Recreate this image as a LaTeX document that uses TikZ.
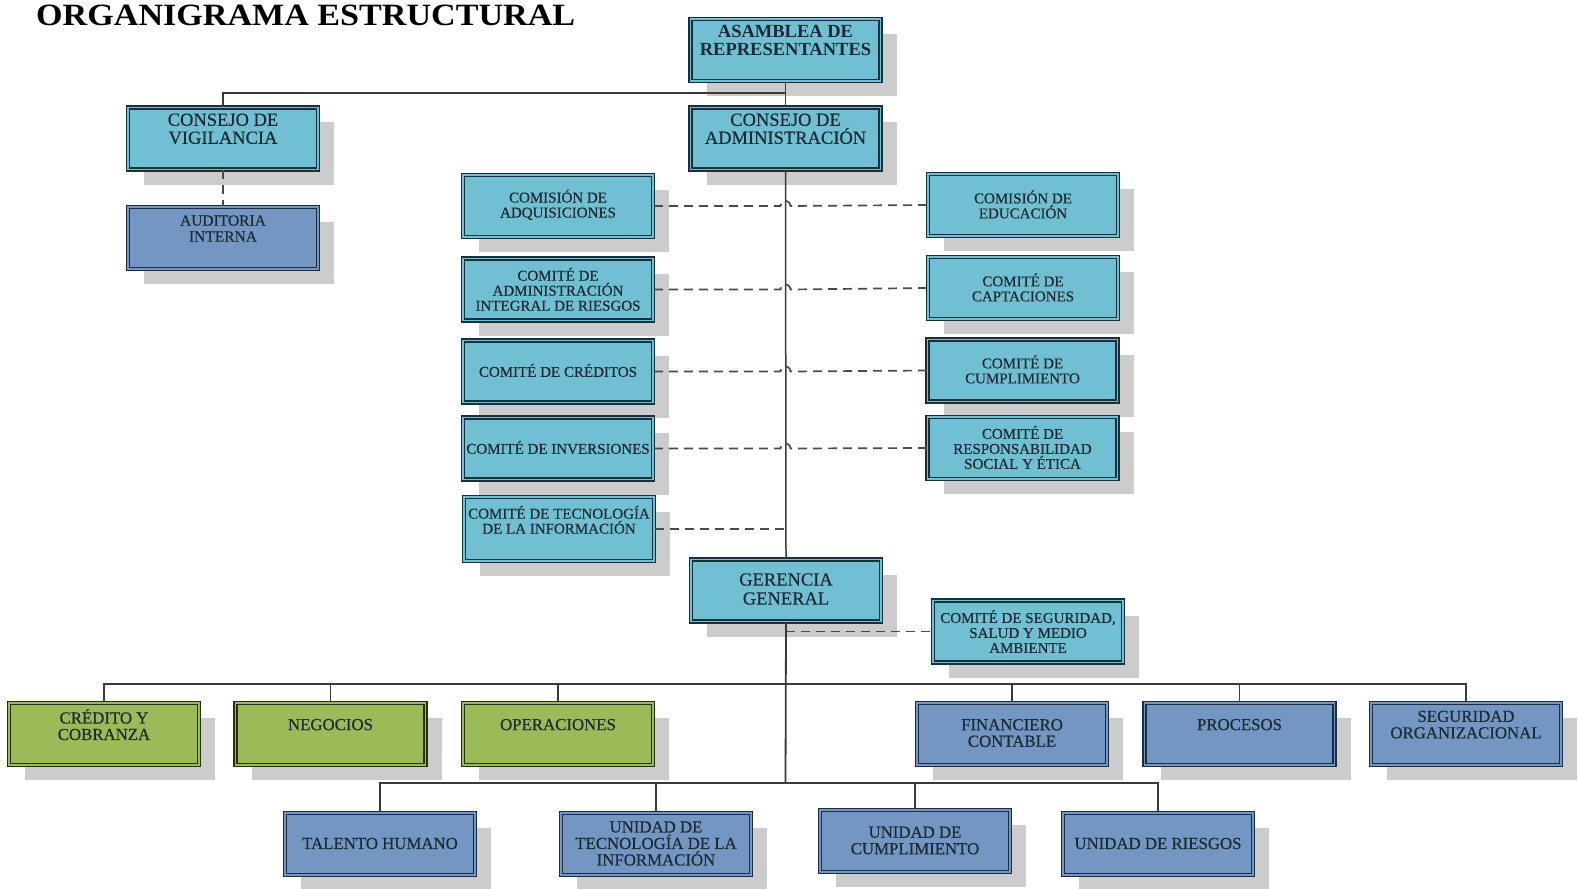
\documentclass[tikz,border=0pt]{standalone}
\usepackage{fontspec}
\setmainfont{Liberation Serif}
\newfontfamily\boxfont{Liberation Serif}[FakeBold=0.4]
\usetikzlibrary{shadows}
\definecolor{cyanc}{HTML}{71BFD3}
\definecolor{bluec}{HTML}{7396C3}
\definecolor{greenc}{HTML}{9BBB59}
\definecolor{bordc}{HTML}{17303B}
\definecolor{bordb}{HTML}{1D2C45}
\definecolor{bordg}{HTML}{263010}
\definecolor{shadowc}{HTML}{CCCCCC}
\definecolor{linec}{HTML}{3A3A3A}
\definecolor{dashc}{HTML}{4A4A4A}
\definecolor{textc}{HTML}{1B2A33}
\tikzset{
  box/.style={draw=#1, line width=1.5pt, double distance=1.2pt,
    minimum width=190pt, minimum height=62pt, inner sep=0pt,
    drop shadow={shadow xshift=16pt, shadow yshift=-15pt, fill=shadowc, opacity=1}},
  cyanbox/.style={box=bordc, fill=cyanc, double=cyanc},
  bluebox/.style={box=bordb, fill=bluec, double=bluec},
  greenbox/.style={box=bordg, fill=greenc, double=greenc},
  txt/.style={inner sep=0pt, align=center, text=textc},
  bigt/.style={txt, font=\boxfont\fontsize{18.5}{18}\selectfont},
  bigbt/.style={txt, font=\bfseries\fontsize{18.5}{18}\selectfont},
  comt/.style={txt, font=\boxfont\fontsize{15}{15}\selectfont},
  gert/.style={txt, font=\boxfont\fontsize{18.5}{19}\selectfont},
  lowt/.style={txt, font=\boxfont\fontsize{16.8}{16.5}\selectfont},
  conn/.style={draw=linec, line width=1.5pt},
  dline/.style={draw=dashc, line width=1.7pt, dash pattern=on 9pt off 6pt},
}
\begin{document}
\begin{tikzpicture}[x=1pt,y=-1pt]
\useasboundingbox (0,0) rectangle (1578,888);
\node[anchor=base west, inner sep=0pt, font=\bfseries\fontsize{31}{34}\selectfont] (title) at (36,26) {\scalebox{1.1}[1]{ORGANIGRAMA ESTRUCTURAL}};

% boxes
\node[cyanbox] (asam) at (785.5,50) {};
\node[cyanbox] (vig) at (223,138.5) {};
\node[cyanbox] (adm) at (785.5,138.5) {};
\node[bluebox] (aud) at (223,238) {};
\node[cyanbox] (cadq) at (558,206) {};
\node[cyanbox] (cair) at (558,289.5) {};
\node[cyanbox] (ccre) at (558,371.5) {};
\node[cyanbox] (cinv) at (558,448.5) {};
\node[cyanbox, minimum height=64pt] (ctec) at (559,529) {};
\node[cyanbox] (cedu) at (1023,205) {};
\node[cyanbox] (ccap) at (1023,288) {};
\node[cyanbox] (ccum) at (1022.5,370.5) {};
\node[cyanbox] (crse) at (1022.5,448) {};
\node[cyanbox] (ger) at (786,590.5) {};
\node[cyanbox] (cseg) at (1028,631.5) {};
\node[greenbox] (cred) at (104,734) {};
\node[greenbox] (neg) at (330.5,734) {};
\node[greenbox] (ope) at (558,734) {};
\node[bluebox] (fin) at (1012,734) {};
\node[bluebox] (pro) at (1239.5,734) {};
\node[bluebox] (sego) at (1466,734) {};
\node[bluebox] (tal) at (380,844) {};
\node[bluebox] (utec) at (656,844) {};
\node[bluebox] (ucum) at (915,841) {};
\node[bluebox] (urie) at (1158,844) {};

% texts
\node[bigbt] (asam-t) at (785.5,40.3) {ASAMBLEA DE\\REPRESENTANTES};
\node[bigt] (vig-t) at (223,128.8) {CONSEJO DE\\VIGILANCIA};
\node[bigt] (adm-t) at (785.5,128.8) {CONSEJO DE\\ADMINISTRACIÓN};
\node[comt, font=\boxfont\fontsize{15.5}{16}\selectfont] (aud-t) at (223,228.5) {AUDITORIA\\INTERNA};
\node[comt] (cadq-t) at (558,204.8) {COMISIÓN DE\\ADQUISICIONES};
\node[comt] (cair-t) at (558,289.3) {COMITÉ DE\\ADMINISTRACIÓN\\INTEGRAL DE RIESGOS};
\node[comt] (ccre-t) at (558,370.5) {COMITÉ DE CRÉDITOS};
\node[comt] (cinv-t) at (558,447.5) {COMITÉ DE INVERSIONES};
\node[comt] (ctec-t) at (559,519.8) {COMITÉ DE TECNOLOGÍA\\DE LA INFORMACIÓN};
\node[comt] (cedu-t) at (1023,204.5) {COMISIÓN DE\\EDUCACIÓN};
\node[comt] (ccap-t) at (1023,287.5) {COMITÉ DE\\CAPTACIONES};
\node[comt] (ccum-t) at (1022.5,369.5) {COMITÉ DE\\CUMPLIMIENTO};
\node[comt] (crse-t) at (1022.5,447.5) {COMITÉ DE\\RESPONSABILIDAD\\SOCIAL Y ÉTICA};
\node[gert] (ger-t) at (786,589) {GERENCIA\\GENERAL};
\node[comt] (cseg-t) at (1028,631.5) {COMITÉ DE SEGURIDAD,\\SALUD Y MEDIO\\AMBIENTE};
\node[lowt] (cred-t) at (104,724.6) {CRÉDITO Y\\COBRANZA};
\node[lowt] (neg-t) at (330.5,724.6) {NEGOCIOS};
\node[lowt] (ope-t) at (558,724.6) {OPERACIONES};
\node[lowt] (fin-t) at (1012,733) {FINANCIERO\\CONTABLE};
\node[lowt] (pro-t) at (1239.5,724.6) {PROCESOS};
\node[lowt] (sego-t) at (1466,724.6) {SEGURIDAD\\ORGANIZACIONAL};
\node[lowt] (tal-t) at (380,843.5) {TALENTO HUMANO};
\node[lowt] (utec-t) at (656,843.5) {UNIDAD DE\\TECNOLOGÍA DE LA\\INFORMACIÓN};
\node[lowt] (ucum-t) at (915,840.5) {UNIDAD DE\\CUMPLIMIENTO};
\node[lowt] (urie-t) at (1158,843.5) {UNIDAD DE RIESGOS};

% connectors
\coordinate (sp) at (785.5,0);
\coordinate (j1) at (785.5,93);
\coordinate (b1) at (785.5,684);
\coordinate (b2) at (785.5,783);
\draw[conn] (asam.south) -- (adm.north);
\draw[conn] (j1) -| (vig.north);
\draw[dline] (vig.south) -- (aud.north);
\draw[conn] (adm.south) -- (ger.north);
\foreach \l/\r in {cadq/cedu, cair/ccap, ccre/ccum, cinv/crse}{
  \draw[dline] (\l.east) -- ([xshift=-5pt]\l.east -| sp)
    .. controls +(1,-7) and +(-1,-7) .. ([xshift=5pt]\l.east -| sp) -- (\r.west);
}
\draw[dline] (ctec.east) -- (ctec.east -| sp);
\draw[dline] (cseg.west -| sp) -- (cseg.west);
\draw[conn, line width=1.8pt] (ger.south) -- (b2);
\draw[conn] (cred.north) |- (b1) -| (sego.north);
\foreach \n in {neg, ope, fin, pro}{
  \draw[conn] (\n.north) -- (\n.north |- b1);
}
\draw[conn] (tal.north) |- (b2) -| (urie.north);
\foreach \n in {utec, ucum}{
  \draw[conn] (\n.north) -- (\n.north |- b2);
}
\end{tikzpicture}
\end{document}
